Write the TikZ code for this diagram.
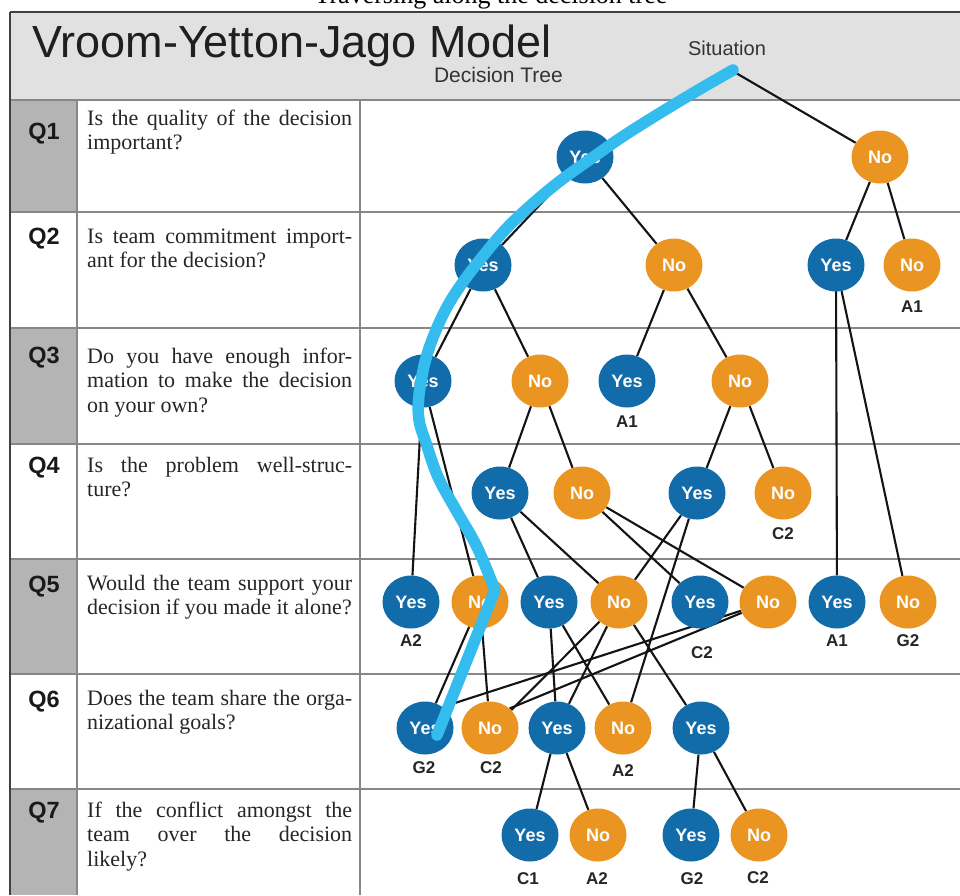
\documentclass[tikz,border=0pt]{standalone}
\usepackage{fontspec}
\setmainfont{Liberation Serif}
\setsansfont{Liberation Sans}
\usetikzlibrary{shapes.geometric}
\definecolor{yesblue}{RGB}{18,108,170}
\definecolor{noorange}{RGB}{234,149,34}
\definecolor{travcol}{RGB}{52,188,238}
\definecolor{hdrgray}{RGB}{225,225,225}
\definecolor{qgray}{RGB}{180,180,180}
\definecolor{gridc}{RGB}{135,135,135}
\pgfdeclarelayer{bglayer}
\pgfdeclarelayer{edgelayer}
\pgfdeclarelayer{fglayer}
\pgfsetlayers{bglayer,edgelayer,main,fglayer}
\newcommand{\qpar}[1]{\parbox[t]{265pt}{\fontsize{22}{24.5}\selectfont #1}}
\begin{document}
\begin{tikzpicture}[x=1pt,y=-1pt,
  yesnode/.style={ellipse, fill=yesblue, minimum width=57pt, minimum height=53pt, inner sep=0pt,
    text=white, font=\sffamily\bfseries\fontsize{18}{18}\selectfont},
  nonode/.style={yesnode, fill=noorange},
  res/.style={font=\sffamily\bfseries\fontsize{17}{17}\selectfont, text=black!85, inner sep=0pt},
  edgeline/.style={draw=black!92, line width=2.1pt},
  qlab/.style={font=\sffamily\bfseries\fontsize{23.5}{23.5}\selectfont, anchor=base, inner sep=0pt, text=black!90},
  qtext/.style={anchor=base west, inner sep=0pt, text=black!85},
  gridline/.style={draw=gridc, line width=1.8pt},
  frameline/.style={draw=black!75, line width=1.4pt},
  travline/.style={draw=travcol, line width=11.5pt, line cap=round, line join=round},
]
\useasboundingbox (0,0) rectangle (960,895);

% ---------- background table ----------
\begin{pgfonlayer}{bglayer}
\fill[white] (0,0) rectangle (960,895);
\fill[hdrgray] (10,12) rectangle (960,100);
\fill[qgray] (10,100) rectangle (77,212);
\fill[qgray] (10,328) rectangle (77,444);
\fill[qgray] (10,559) rectangle (77,674);
\fill[qgray] (10,789) rectangle (77,895);
\foreach \yy in {100,212,328,444,559,674,789} {\draw[gridline] (10,\yy) -- (960,\yy);}
\draw[gridline] (77,100) -- (77,895);
\draw[gridline] (360,100) -- (360,895);
\draw[frameline] (10,12) -- (960,12);
\draw[frameline] (10,12) -- (10,895);
\end{pgfonlayer}

% ---------- header texts ----------
\node[anchor=base, inner sep=0pt, font=\fontsize{26}{26}\selectfont] (caption) at (491,3.5) {Traversing along the decision tree};
\node[anchor=base west, inner sep=0pt, font=\sffamily\fontsize{45}{45}\selectfont, text=black!88] (title) at (32,57.5) {Vroom-Yetton-Jago Model};
\node[anchor=base east, inner sep=0pt, font=\sffamily\fontsize{21}{21}\selectfont, text=black!80] (subtitle) at (563,82.5) {Decision Tree};
\node[anchor=base, inner sep=0pt, font=\sffamily\fontsize{20}{20}\selectfont, text=black!80] (sit) at (727,55) {Situation};
\coordinate (S) at (736,73);

% ---------- question column ----------
\node[qlab] (q1) at (44,139) {Q1};
\node[qlab] (q2) at (44,244) {Q2};
\node[qlab] (q3) at (44,363) {Q3};
\node[qlab] (q4) at (44,473) {Q4};
\node[qlab] (q5) at (44,592) {Q5};
\node[qlab] (q6) at (44,707) {Q6};
\node[qlab] (q7) at (44,818) {Q7};

\node[qtext] (t1) at (87,125) {\qpar{Is the quality of the decision\linebreak important?}};
\node[qtext] (t2) at (87,243) {\qpar{Is team commitment import-\linebreak ant for the decision?}};
\node[qtext] (t3) at (87,363) {\qpar{Do you have enough infor-\linebreak mation to make the decision\linebreak on your own?}};
\node[qtext] (t4) at (87,472) {\qpar{Is the problem well-struc-\linebreak ture?}};
\node[qtext] (t5) at (87,590) {\qpar{Would the team support your\linebreak decision if you made it alone?}};
\node[qtext] (t6) at (87,705) {\qpar{Does the team share the orga-\linebreak nizational goals?}};
\node[qtext] (t7) at (87,817) {\qpar{If the conflict amongst the\linebreak team over the decision\linebreak likely?}};

% ---------- tree nodes ----------
\node[yesnode] (Y1) at (585,157) {Yes};
\node[nonode]  (N1) at (880,157) {No};

\node[yesnode] (Y2a) at (483,265) {Yes};
\node[nonode]  (N2a) at (674,265) {No};
\node[yesnode] (Y2b) at (836,265) {Yes};
\node[nonode]  (N2b) at (912,265) {No};

\node[yesnode] (Y3a) at (423,381) {Yes};
\node[nonode]  (N3a) at (540,381) {No};
\node[yesnode] (Y3b) at (627,381) {Yes};
\node[nonode]  (N3b) at (740,381) {No};

\node[yesnode] (Y4a) at (500,493) {Yes};
\node[nonode]  (N4a) at (582,493) {No};
\node[yesnode] (Y4b) at (697,493) {Yes};
\node[nonode]  (N4b) at (783,493) {No};

\node[yesnode] (Y5a) at (411,602) {Yes};
\node[nonode]  (N5a) at (480,602) {No};
\node[yesnode] (Y5b) at (549,602) {Yes};
\node[nonode]  (N5b) at (619,602) {No};
\node[yesnode] (Y5c) at (700,602) {Yes};
\node[nonode]  (N5c) at (768,602) {No};
\node[yesnode] (Y5d) at (837,602) {Yes};
\node[nonode]  (N5d) at (908,602) {No};

\node[yesnode] (Y6a) at (425,728) {Yes};
\node[nonode]  (N6a) at (490,728) {No};
\node[yesnode] (Y6b) at (557,728) {Yes};
\node[nonode]  (N6b) at (623,728) {No};
\node[yesnode] (Y6c) at (701,728) {Yes};

\node[yesnode] (Y7a) at (530,835) {Yes};
\node[nonode]  (N7a) at (598,835) {No};
\node[yesnode] (Y7b) at (691,835) {Yes};
\node[nonode]  (N7b) at (759,835) {No};

% ---------- outcome labels ----------
\node[res] (rN2b) at (912,307) {A1};
\node[res] (rY3b) at (627,422) {A1};
\node[res] (rN4b) at (783,534) {C2};
\node[res] (rY5a) at (411,641) {A2};
\node[res] (rY5c) at (702,653) {C2};
\node[res] (rY5d) at (837,641) {A1};
\node[res] (rN5d) at (908,641) {G2};
\node[res] (rY6a) at (424,768) {G2};
\node[res] (rN6a) at (491,768) {C2};
\node[res] (rN6b) at (623,771) {A2};
\node[res] (rY7a) at (528,879) {C1};
\node[res] (rN7a) at (597,879) {A2};
\node[res] (rY7b) at (692,879) {G2};
\node[res] (rN7b) at (758,878) {C2};

% ---------- connectors ----------
\begin{pgfonlayer}{edgelayer}
\draw[edgeline] (S) -- (Y1);
\draw[edgeline] (S) -- (N1);
\draw[edgeline] (Y1) -- (Y2a);
\draw[edgeline] (Y1) -- (N2a);
\draw[edgeline] (N1) -- (Y2b);
\draw[edgeline] (N1) -- (N2b);
\draw[edgeline] (Y2a) -- (Y3a);
\draw[edgeline] (Y2a) -- (N3a);
\draw[edgeline] (N2a) -- (Y3b);
\draw[edgeline] (N2a) -- (N3b);
\draw[edgeline] (Y2b.center) -- (Y5d);
\draw[edgeline] (Y2b) -- (N5d);
\draw[edgeline] (Y3a) -- (Y5a);
\draw[edgeline] (Y3a) -- (N5a);
\draw[edgeline] (N3a) -- (Y4a);
\draw[edgeline] (N3a) -- (N4a);
\draw[edgeline] (N3b) -- (Y4b);
\draw[edgeline] (N3b) -- (N4b);
\draw[edgeline] (Y4a) -- (Y5b);
\draw[edgeline] (Y4a) -- (N5b);
\draw[edgeline] (N4a) -- (Y5c);
\draw[edgeline] (N4a) -- (N5c);
\draw[edgeline] (Y4b) -- (N5b);
\draw[edgeline] (Y4b) -- (N6b);
\draw[edgeline] (N5a) -- (Y6a);
\draw[edgeline] (N5a) -- (N6a);
\draw[edgeline] (Y5b) -- (Y6b);
\draw[edgeline] (Y5b) -- (N6b);
\draw[edgeline] (N5b) -- (N6a.40);
\draw[edgeline] (N5b) -- (Y6b);
\draw[edgeline] (N5b) -- (Y6c);
\draw[edgeline] (N5c) -- (Y6a.50);
\draw[edgeline] (N5c) -- (N6a.45);
\draw[edgeline] (Y6b) -- (Y7a);
\draw[edgeline] (Y6b) -- (N7a);
\draw[edgeline] (Y6c) -- (Y7b);
\draw[edgeline] (Y6c) -- (N7b);
\end{pgfonlayer}

% ---------- hand-drawn traversal stroke ----------
\begin{pgfonlayer}{fglayer}
\draw[travline] plot[smooth, tension=0.6] coordinates {(733,70) (700,89) (660,113) (622,137) (592,158) (560,181) (530,206) (505,230) (483,256) (463,282) (447,307) (434,335) (425,362) (419,395) (419,420) (426,443) (438,477) (456,510) (477,547) (495,590)} -- (437,735);
\end{pgfonlayer}
\end{tikzpicture}
\end{document}
